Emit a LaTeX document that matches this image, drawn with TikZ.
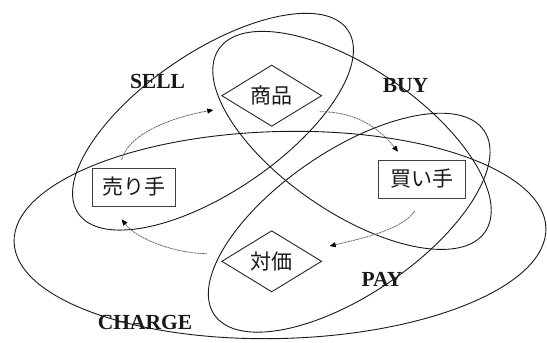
\documentclass[tikz,border=0pt]{standalone}
\usepackage{fontspec}
\setmainfont{Liberation Serif}
\newfontfamily\jpfont{Noto Sans CJK JP}
\usetikzlibrary{shapes.geometric,arrows.meta}
\begin{document}
\begin{tikzpicture}[x=1pt,y=-1pt,
  ring/.style={draw=black!90,line width=0.9pt},
  goods/.style={diamond,draw=black!85,line width=0.9pt,minimum width=100pt,minimum height=57pt,inner sep=0pt,font=\jpfont\fontsize{21}{23}\selectfont,text=black!90},
  party/.style={rectangle,draw=black!75,line width=0.9pt,minimum height=38pt,inner sep=0pt,font=\jpfont\fontsize{21}{23}\selectfont,text=black!90},
  verblabel/.style={font=\bfseries\fontsize{21.5}{24}\selectfont,text=black!90,inner sep=0pt},
  flow/.style={draw=black!60,line width=0.8pt,dash pattern=on 2pt off 0.7pt,-{Triangle[length=6pt,width=5pt,color=black]}}]
\useasboundingbox (0,0) rectangle (547,343);
% ellipses
\draw[ring, rotate around={34.2:(213,121.7)}] (213,121.7) ellipse [x radius=163pt, y radius=70pt];
\draw[ring, rotate around={-34.5:(352,140.4)}] (352,140.4) ellipse [x radius=161.5pt, y radius=72pt];
\draw[ring, rotate around={34.3:(349.2,222.7)}] (349.2,222.7) ellipse [x radius=163.3pt, y radius=71.8pt];
\draw[ring, rotate around={1.5:(280,235)}] (280,235) ellipse [x radius=266pt, y radius=103.5pt];
% nodes
\node[goods] (shohin) at (271.7,95.7) {商品};
\node[goods] (taika) at (271.7,261.3) {対価};
\node[party,minimum width=82.7pt] (urite) at (133.7,187) {売り手};
\node[party,minimum width=87pt] (kaite) at (421.7,179) {買い手};
% labels
\node[verblabel] (sell) at (157.5,81) {SELL};
\node[verblabel] (buy) at (405.5,86) {BUY};
\node[verblabel] (pay) at (382,279.7) {PAY};
\node[verblabel] (charge) at (145,322.5) {CHARGE};
% flow arrows
\coordinate (f1s) at (121.7,160);
\coordinate (f1e) at (213.3,110);
\coordinate (f2s) at (319.7,111.7);
\coordinate (f2e) at (398,151.7);
\coordinate (f3s) at (414.7,211);
\coordinate (f3e) at (329.7,246);
\coordinate (f4s) at (206.7,253.7);
\coordinate (f4e) at (121.7,219.3);
\draw[flow] (f1s) .. controls +(6,-25) and +(-45,8) .. (f1e);
\draw[flow] (f2s) .. controls +(35,0) and +(-20,-25) .. (f2e);
\draw[flow] (f3s) .. controls +(-12,18) and +(35,-8) .. (f3e);
\draw[flow] (f4s) .. controls +(-30,0) and +(15,20) .. (f4e);
\end{tikzpicture}
\end{document}
